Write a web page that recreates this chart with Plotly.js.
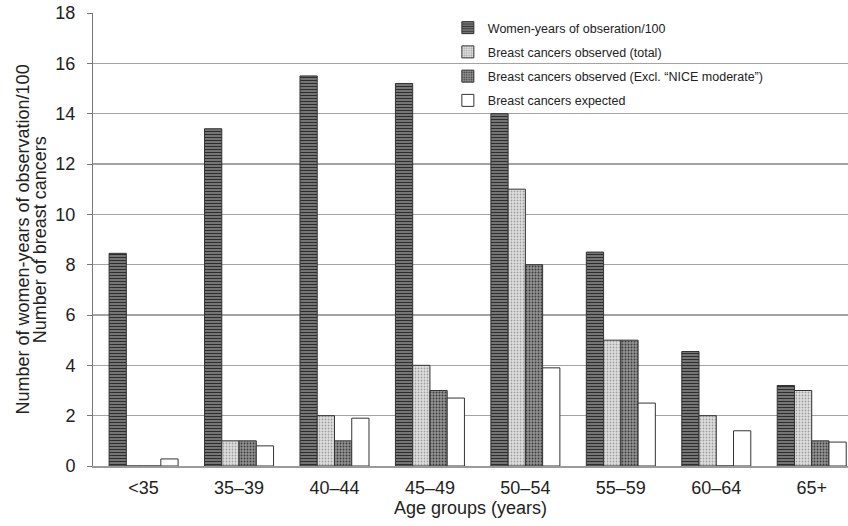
<!DOCTYPE html>
<html>
<head>
<meta charset="utf-8">
<script src="https://cdn.plot.ly/plotly-3.0.1.min.js"></script>
<style>html,body{margin:0;padding:0;background:#fff;}#chart{width:848px;height:526px;}</style>
</head>
<body>
<div id="chart"></div>
<script>
const categories = ["<35", "35–39", "40–44", "45–49", "50–54", "55–59", "60–64", "65+"];
const womenYears = [8.45, 13.4, 15.5, 15.2, 14.0, 8.5, 4.55, 3.2];
const observedTotal = [0, 1, 2, 4, 11, 5, 2, 3];
const observedExcl = [0, 1, 1, 3, 8, 5, 0, 1];
const expected = [0.28, 0.8, 1.9, 2.7, 3.9, 2.5, 1.4, 0.95];
const seriesNames = [
  "Women-years of obseration/100",
  "Breast cancers observed (total)",
  "Breast cancers observed (Excl. “NICE moderate”)",
  "Breast cancers expected"
];
const yTitleLines = ["Number of women-years of observation/100", "Number of breast cancers"];
const xTitle = "Age groups (years)";

const idx = categories.map((_, i) => i);
const font = "Arial, 'Liberation Sans', Helvetica, sans-serif";

function bar(name, y, fill, pattern, group) {
  return {
    type: "bar", name: name, x: idx, y: y, legendgroup: group,
    marker: {
      color: fill,
      line: {color: "#333", width: 1},
      pattern: pattern
    },
    hoverinfo: "y"
  };
}

const data = [
  bar(seriesNames[0], womenYears, "#7a7a7a", {shape: "-", size: 3, solidity: 0.5, fgcolor: "#2e2e2e", bgcolor: "#8c8c8c"}, "g1"),
  bar(seriesNames[1], observedTotal, "#d6d6d6", {shape: ".", size: 3, solidity: 0.3, fgcolor: "#a0a0a0", bgcolor: "#e0e0e0"}, "g2"),
  bar(seriesNames[2], observedExcl, "#888", {shape: ".", size: 3, solidity: 0.35, fgcolor: "#3e3e3e", bgcolor: "#959595"}, "g3"),
  bar(seriesNames[3], expected, "#ffffff", {}, "g4")
];

const layout = {
  width: 848, height: 526,
  margin: {l: 93, r: 0, t: 13, b: 60},
  paper_bgcolor: "#fff", plot_bgcolor: "#fff",
  font: {family: font, size: 18, color: "#222"},
  barmode: "group",
  bargap: 0.277,
  bargroupgap: 0,
  showlegend: true,
  legend: {
    x: 0.47, y: 1.0, xanchor: "left", yanchor: "top",
    bgcolor: "rgba(0,0,0,0)", borderwidth: 0,
    font: {family: font, size: 12.5, color: "#222"},
    itemwidth: 30, tracegroupgap: 5, traceorder: "grouped"
  },
  xaxis: {
    range: [-0.53, 7.38],
    tickmode: "array", tickvals: idx, ticktext: categories,
    showgrid: false, zeroline: false,
    showline: true, linecolor: "#9a9a9a", linewidth: 2,
    ticks: "", tickfont: {size: 18},
    ticklabelstandoff: 4,
    title: {text: xTitle, font: {size: 18}, standoff: 5}
  },
  yaxis: {
    range: [0, 18], dtick: 2, tick0: 0,
    showgrid: true, gridcolor: "#a3a3a3", gridwidth: 1.5,
    zeroline: false,
    showline: true, linecolor: "#777", linewidth: 1,
    ticks: "outside", ticklen: 5, tickcolor: "#777",
    ticklabelstandoff: 8,
    tickfont: {size: 18}
  },
  annotations: [
    {text: yTitleLines[0], xref: "paper", yref: "paper", x: -0.094, y: 0.5,
     xanchor: "center", yanchor: "middle", textangle: -90, showarrow: false, font: {size: 18}},
    {text: yTitleLines[1], xref: "paper", yref: "paper", x: -0.0705, y: 0.5,
     xanchor: "center", yanchor: "middle", textangle: -90, showarrow: false, font: {size: 18}}
  ]
};

Plotly.newPlot("chart", data, layout, {displayModeBar: false, staticPlot: true});
</script>
</body>
</html>
